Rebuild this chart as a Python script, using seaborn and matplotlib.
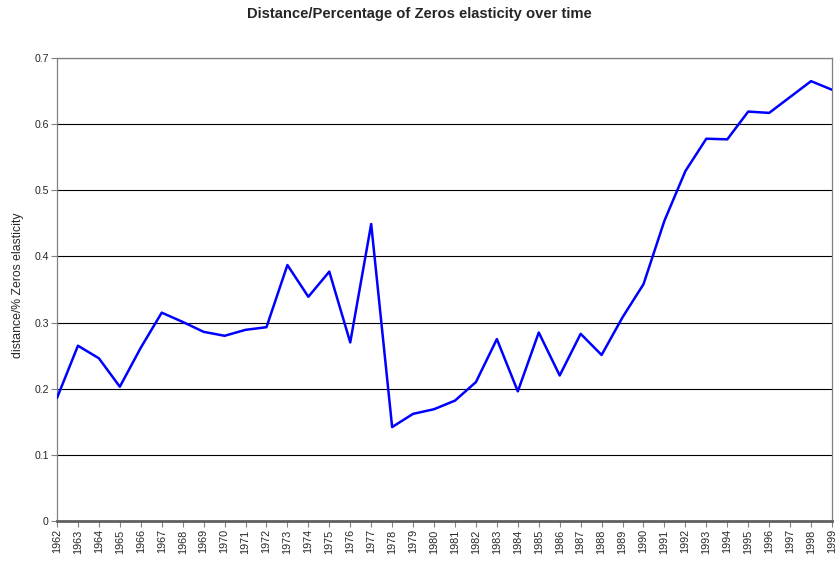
import matplotlib
matplotlib.use("Agg")
import matplotlib.pyplot as plt
import seaborn as sns
import pandas as pd

years = list(range(1962, 2000))
values = [0.186, 0.265, 0.246, 0.203, 0.262, 0.315, 0.301, 0.286, 0.280, 0.289,
          0.293, 0.387, 0.339, 0.377, 0.270, 0.449, 0.142, 0.162, 0.169, 0.182,
          0.210, 0.275, 0.196, 0.285, 0.220, 0.283, 0.251, 0.308, 0.358, 0.454,
          0.529, 0.578, 0.577, 0.619, 0.617, 0.641, 0.665, 0.652]
yticks = [0, 0.1, 0.2, 0.3, 0.4, 0.5, 0.6, 0.7]
ytick_labels = ["0", "0.1", "0.2", "0.3", "0.4", "0.5", "0.6", "0.7"]

sns.set_style("white")
plt.rcParams['font.family'] = ['Liberation Sans', 'DejaVu Sans']

df = pd.DataFrame({"year": years, "value": values})

fig = plt.figure(figsize=(8.36, 5.63), dpi=100)
ax = fig.add_axes([57/836, 1-521/563, (832-57)/836, (521-58)/563])

for y in yticks[1:]:
    ax.axhline(y, color="black", lw=0.8, zorder=1)

sns.lineplot(data=df, x="year", y="value", ax=ax, color="#0000FF", lw=1.8, zorder=3)

ax.set_xlim(1962, 1999)
ax.set_ylim(0, 0.7)
ax.set_xticks(years)
ax.set_xticklabels([str(y) for y in years], rotation=90, fontsize=7.8)
ax.set_yticks(yticks)
ax.set_yticklabels(ytick_labels, fontsize=7.6)
ax.tick_params(axis="both", direction="out", length=4, width=0.8, color="#808080", pad=2,
               bottom=True, left=True)
ax.set_xlabel("")
ax.set_ylabel("distance/% Zeros elasticity", fontsize=8.8)
ax.yaxis.set_label_coords(-(57-24)/775, 0.51)

for s in ["top", "right", "left"]:
    ax.spines[s].set_visible(True)
    ax.spines[s].set_color("#808080")
    ax.spines[s].set_linewidth(0.9)
ax.spines["bottom"].set_color("#606060")
ax.spines["bottom"].set_linewidth(2)

fig.text(419/836, 1-14/563, "Distance/Percentage of Zeros elasticity over time",
         ha="center", va="center", fontsize=10.6, fontweight="bold")

fig.savefig("out.png", dpi=100)
